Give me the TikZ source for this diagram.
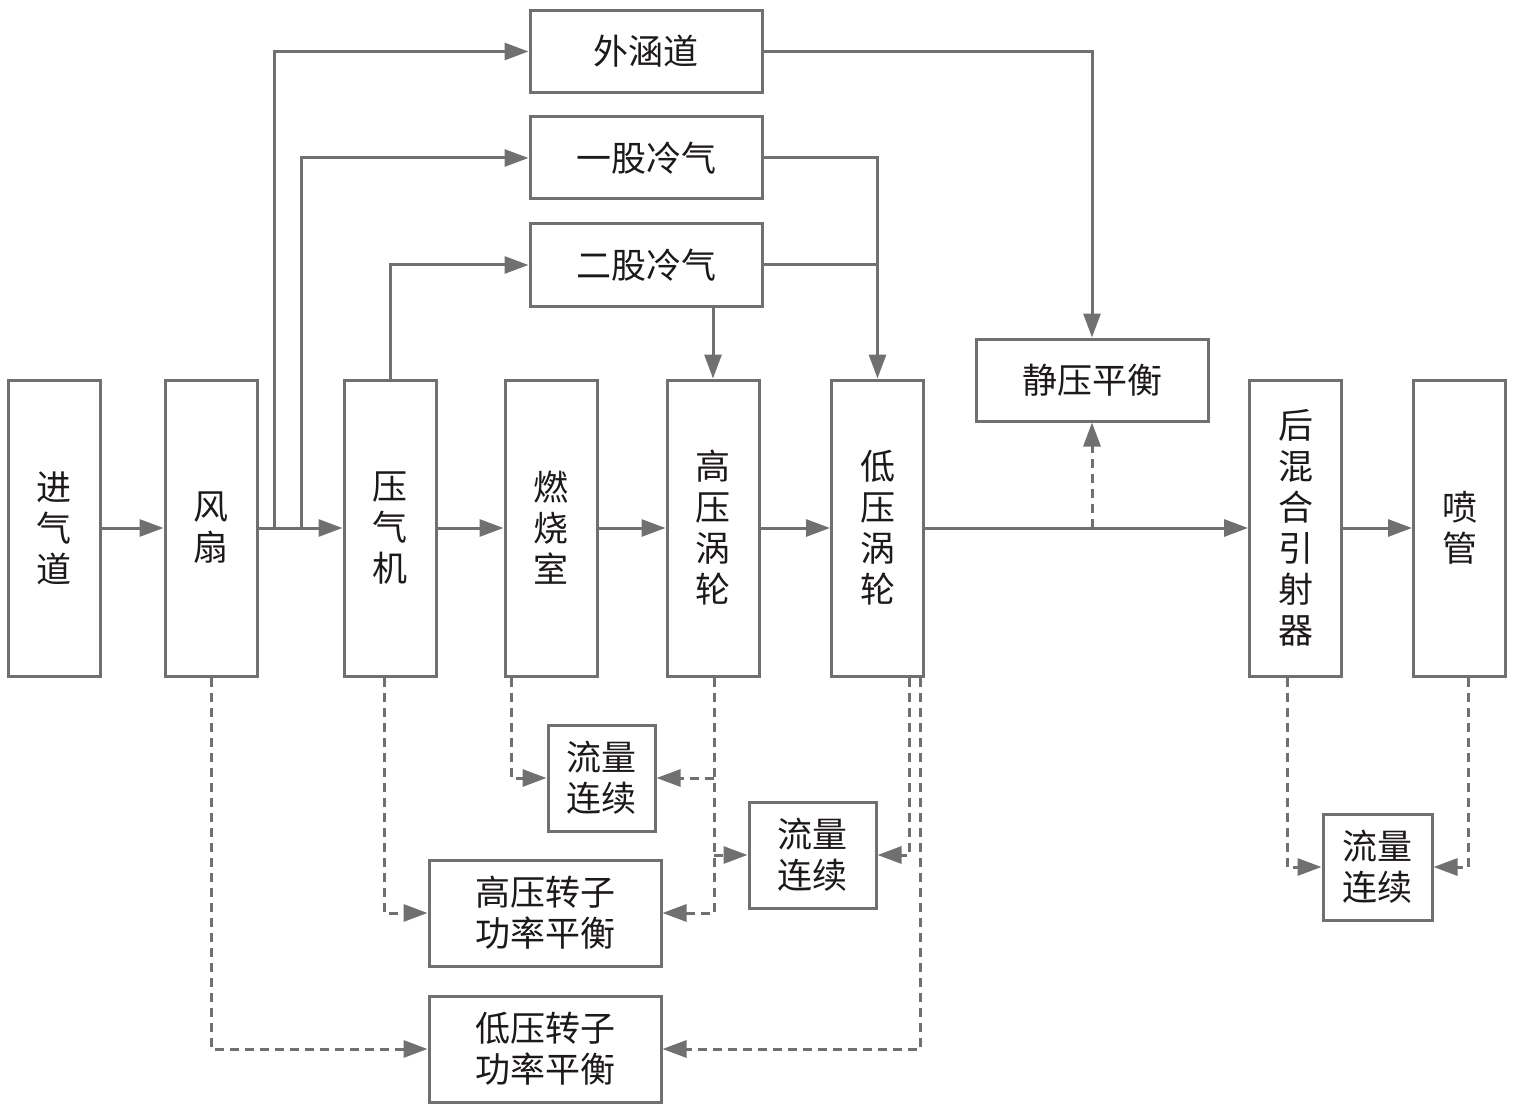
\documentclass[tikz,border=0pt]{standalone}
\usepackage{fontspec}
\setmainfont{Noto Sans CJK SC}
\usetikzlibrary{arrows.meta}
\definecolor{lg}{RGB}{112,112,112}
\definecolor{tx}{RGB}{30,25,25}
\begin{document}
\begin{tikzpicture}[x=1pt,y=-1pt,
  blk/.style={draw=lg, line width=3pt, inner sep=0pt, text=tx, align=center,
    font={\fontsize{35pt}{41pt}\selectfont}},
  vb/.style={blk, minimum width=92pt, minimum height=296pt},
  hb/.style={blk, minimum width=232pt, minimum height=82pt},
  arr/.style={draw=lg, line width=3pt, -{Triangle[length=24pt,width=17pt]}},
  darr/.style={arr, dash pattern=on 9pt off 6pt}]
\useasboundingbox (0,0) rectangle (1513,1110);
% main column boxes
\node[vb] (inlet) at (54,528) {进\\气\\道};
\node[vb] (fan) at (211,528) {风\\扇};
\node[vb] (comp) at (390,528) {压\\气\\机};
\node[vb] (comb) at (551,528) {燃\\烧\\室};
\node[vb] (hpt) at (713,528) {高\\压\\涡\\轮};
\node[vb] (lpt) at (877.5,528) {低\\压\\涡\\轮};
\node[vb] (mix) at (1295.5,528) {后\\混\\合\\引\\射\\器};
\node[vb] (nozz) at (1459.5,528) {喷\\管};
% upper boxes
\node[hb] (bypass) at (646,51.5) {外涵道};
\node[hb] (cool1) at (646,158) {一股冷气};
\node[hb] (cool2) at (646,265) {二股冷气};
\node[hb] (static) at (1092,380) {静压平衡};
% lower boxes
\node[blk, minimum width=107pt, minimum height=106pt] (fc1) at (601.5,778) {流量\\连续};
\node[blk, minimum width=127pt, minimum height=106pt] (fc2) at (812.5,855) {流量\\连续};
\node[blk, minimum width=109pt, minimum height=106pt] (fc3) at (1377.5,867) {流量\\连续};
\node[blk, minimum width=232pt, minimum height=106pt] (hpbal) at (545,913) {高压转子\\功率平衡};
\node[blk, minimum width=232pt, minimum height=106pt] (lpbal) at (545,1049) {低压转子\\功率平衡};
% junctions
\coordinate (j1) at (274,528);
\coordinate (j2) at (301,528);
\coordinate (j3) at (static.south |- lpt.east);
% main flow
\draw[arr] (inlet) -- (fan);
\draw[arr] (fan) -- (comp);
\draw[arr] (comp) -- (comb);
\draw[arr] (comb) -- (hpt);
\draw[arr] (hpt) -- (lpt);
\draw[arr] (lpt) -- (mix);
\draw[arr] (mix) -- (nozz);
% branches
\draw[arr] (j1) |- (bypass.west);
\draw[arr] (j2) |- (cool1.west);
\draw[arr] (comp.north) |- (cool2.west);
\draw[arr] (bypass.east) -| (static.north);
\draw[arr] (cool1.east) -| (lpt.north);
\draw[draw=lg, line width=3pt] (cool2.east) -- (cool2.east -| lpt.north);
\draw[arr] (cool2.south -| hpt.north) -- (hpt.north);
\draw[darr] (j3) -- (static.south);
% lower dashed links
\draw[darr] ([xshift=-40pt]comb.south) |- (fc1.west);
\draw[darr] ([xshift=1pt]hpt.south) |- (hpbal.east);
\draw[darr] ([xshift=1pt]hpt.south |- fc1.east) -- (fc1.east);
\draw[darr] ([xshift=1pt]hpt.south |- fc2.west) -- (fc2.west);
\draw[darr] ([xshift=-6pt]comp.south) |- (hpbal.west);
\draw[darr] ([xshift=31.5pt]lpt.south) |- (fc2.east);
\draw[darr] ([xshift=42.5pt]lpt.south) |- (lpbal.east);
\draw[darr] (fan.south) |- (lpbal.west);
\draw[darr] ([xshift=-8.5pt]mix.south) |- (fc3.west);
\draw[darr] ([xshift=8.5pt]nozz.south) |- (fc3.east);
\end{tikzpicture}
\end{document}
